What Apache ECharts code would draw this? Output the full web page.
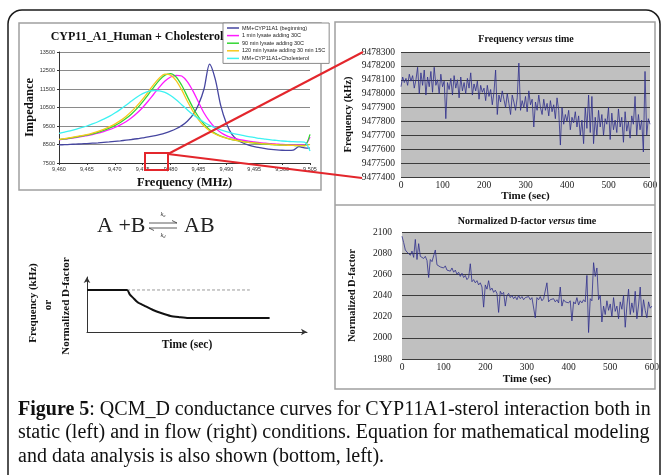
<!DOCTYPE html>
<html>
<head>
<meta charset="utf-8">
<title>Figure 5</title>
<script src="https://cdn.jsdelivr.net/npm/echarts@6.0.0/dist/echarts.min.js"></script>
<style>
html, body { margin: 0; padding: 0; background: #fff; }
#main { width: 662px; height: 475px; }
</style>
</head>
<body>
<div id="main"></div>
<script>
// 左上：阻抗-频率曲线 (MHz)
var freqMHz = [9460, 9461, 9462, 9463, 9464, 9465, 9466, 9467, 9468, 9469,
    9470, 9471, 9472, 9473, 9474, 9475, 9476, 9477, 9478, 9479,
    9480, 9481, 9482, 9483, 9484, 9485, 9486, 9487, 9488, 9489,
    9490, 9491, 9492, 9493, 9494, 9495, 9496, 9497, 9498, 9499,
    9500, 9501, 9502, 9503, 9504, 9505];
var seriesNames = ['MM+CYP11A1 (beginning)', '1 min lysate adding 30C', '90 min lysate adding 30C',
    '120 min lysate adding 30 min 15C', 'MM+CYP11A1+Cholesterol'];
var seriesColors = ['#4646a0', '#ff1aff', '#33d633', '#f7c81e', '#3df2f2'];
var beginning = [8480, 8490, 8505, 8520, 8535, 8550, 8570, 8590, 8615, 8640,
    8670, 8700, 8735, 8770, 8810, 8860, 8910, 8970, 9040, 9120,
    9220, 9350, 9520, 9760, 10100, 10650, 11500, 12850, 12050, 10600,
    9650, 9050, 8750, 8580, 8470, 8390, 8330, 8280, 8240, 8210,
    8190, 8180, 8200, 8380, 8320, 8300];
var lysate1min = [8750, 8790, 8830, 8870, 8920, 8980, 9040, 9110, 9200, 9300,
    9420, 9560, 9730, 9940, 10200, 10500, 10850, 11230, 11600, 11930,
    12150, 12240, 12200, 11900, 11400, 10800, 10200, 9750, 9400, 9150,
    8980, 8870, 8790, 8730, 8680, 8640, 8600, 8570, 8540, 8520,
    8500, 8490, 8480, 8470, 8470, 8900];
var lysate90min = [8760, 8800, 8850, 8900, 8950, 9010, 9080, 9160, 9260, 9380,
    9520, 9690, 9900, 10150, 10450, 10800, 11200, 11600, 11980, 12250,
    12330, 12150, 11700, 11100, 10500, 10000, 9600, 9300, 9100, 8950,
    8850, 8770, 8710, 8660, 8620, 8580, 8550, 8520, 8500, 8480,
    8470, 8460, 8450, 8440, 8440, 9050];
var lysate120min = [8780, 8820, 8870, 8920, 8980, 9040, 9120, 9210, 9320, 9450,
    9600, 9790, 10020, 10290, 10600, 10950, 11350, 11750, 12100, 12300,
    12250, 11950, 11450, 10850, 10300, 9850, 9500, 9250, 9070, 8940,
    8840, 8770, 8710, 8660, 8620, 8590, 8560, 8530, 8510, 8490,
    8470, 8460, 8450, 8440, 8430, 8500];
var cholesterol = [9100, 9170, 9240, 9320, 9410, 9500, 9610, 9730, 9870, 10020,
    10200, 10400, 10620, 10850, 11070, 11250, 11370, 11420, 11400, 11320,
    11150, 10920, 10650, 10380, 10120, 9900, 9700, 9530, 9400, 9290,
    9200, 9120, 9050, 8990, 8930, 8880, 8830, 8790, 8750, 8720,
    8690, 8670, 8650, 8640, 8630, 8150];
var impedanceCurves = [beginning, lysate1min, lysate90min, lysate120min, cholesterol];

// 右侧：流动条件下的时间序列，每 4 秒一个点
var timeStep = 4;
var freqKHz = [
    9478050, 9478120, 9478080, 9478110, 9478060, 9478140, 9478090, 9478130, 9478040, 9478100,
    9478190, 9478000, 9478150, 9478060, 9478170, 9477990, 9478120, 9478050, 9478160, 9478010,
    9478190, 9478060, 9478100, 9478000, 9478140, 9478050, 9478090, 9477820, 9478080, 9478030,
    9478110, 9477990, 9478130, 9478040, 9478100, 9477970, 9478120, 9478020, 9478080, 9478000,
    9478110, 9478040, 9478150, 9477990, 9478070, 9478020, 9478090, 9477960, 9478060, 9478010,
    9478040, 9477950, 9478060, 9477980, 9478030, 9477920, 9478010, 9478170, 9477850, 9477990,
    9477940, 9478020, 9477960, 9477900, 9478000, 9477930, 9477850, 9477990, 9477940, 9477880,
    9477970, 9478220, 9477880, 9477950, 9477900, 9477980, 9477870, 9478020, 9477920, 9477960,
    9477760, 9477940, 9477880, 9477990, 9477900, 9477850, 9477960, 9477880, 9477930, 9477840,
    9477950, 9477870, 9477920, 9477820, 9477970, 9477880, 9477630, 9477900, 9477780, 9477850,
    9477800, 9477880, 9477740, 9477830, 9477790, 9477870, 9477760, 9477840, 9477700, 9477810,
    9477640, 9477900, 9477750, 9477990, 9477720, 9477980, 9477640, 9477830, 9477700, 9477880,
    9477760, 9477850, 9477700, 9477820, 9477780, 9477900, 9477670, 9477860, 9477740, 9477810,
    9477720, 9477890, 9477760, 9477830, 9477650, 9477870, 9477730, 9477800, 9477680, 9477840,
    9477780, 9477980, 9477700, 9477850, 9477740, 9477810, 9477580, 9478160, 9477700, 9477820,
    9477780];
var dFactor = [
    2096, 2090, 2083, 2081, 2080, 2078, 2082, 2076, 2093, 2074,
    2089, 2077, 2078, 2075, 2077, 2073, 2057, 2074, 2072, 2071,
    2083, 2069, 2070, 2067, 2068, 2066, 2068, 2064, 2065, 2063,
    2066, 2062, 2064, 2060, 2062, 2058, 2061, 2057, 2059, 2055,
    2057, 2070, 2053, 2055, 2052, 2054, 2050, 2052, 2048, 2029,
    2050, 2046, 2054, 2045, 2047, 2043, 2045, 2042, 2024, 2044,
    2041, 2043, 2030, 2040, 2042, 2038, 2040, 2037, 2039, 2036,
    2040, 2037, 2039, 2036, 2038, 2037, 2039, 2036, 2038, 2037,
    2019, 2038, 2036, 2039, 2035, 2037, 2036, 2052, 2034, 2036,
    2035, 2037, 2034, 2036, 2033, 2048, 2030, 2036, 2034, 2035,
    2033, 2035, 2016, 2034, 2032, 2038, 2031, 2035, 2033, 2036,
    2034, 2059, 2005, 2037, 2035, 2071, 2058, 2066, 2036, 2040,
    2015, 2030, 2022, 2035, 2026, 2032, 2020, 2038, 2025, 2030,
    2018, 2034, 2027, 2040, 2010, 2030, 2046, 2022, 2033, 2024,
    2044, 2018, 2031, 2048, 2020, 2036, 2026, 2019, 2034, 2028,
    2030];

// 左下：示意曲线（任意单位）
var schemX = [0, 1.82, 1.95, 2.1, 2.3, 2.6, 3.0, 3.4, 3.8, 4.2, 4.6, 8.3];
var schemY = [7.64, 7.64, 6.8, 6.2, 5.4, 4.8, 4.0, 3.4, 2.9, 2.7, 2.55, 2.55];
var baselineX = [1.82, 7.4];
var baselineY = [7.64, 7.64];

var serif = 'Liberation Serif';
var sans = 'Liberation Sans';

function pairs(xs, ys) {
    return xs.map(function (x, i) { return [x, ys[i]]; });
}
function timed(ys) {
    return ys.map(function (y, i) { return [i * timeStep, y]; });
}
function plain(v) { return String(v); }

function serifText(x, y, text, size, extra, rotation) {
    var style = {
        text: text, x: 0, y: 0, fill: '#111',
        font: 'bold ' + size + 'px "' + serif + '"',
        textAlign: 'center', textVerticalAlign: 'middle'
    };
    for (var k in extra || {}) { style[k] = extra[k]; }
    return { type: 'text', x: x, y: y, rotation: rotation || 0, style: style, z: 50 };
}

var versusRich = {
    b: { fontFamily: serif, fontWeight: 'bold', fontSize: 10, fill: '#111' },
    i: { fontFamily: serif, fontWeight: 'bold', fontStyle: 'italic', fontSize: 10, fill: '#111' }
};
var kRich = {
    k: { fontFamily: serif, fontStyle: 'italic', fontSize: 6.5, fill: '#333' },
    s: { fontFamily: serif, fontStyle: 'italic', fontSize: 4.5, fill: '#333', padding: [3, 0, 0, 0] }
};
var captionFont = '20px "' + serif + '"';

var myChart = echarts.init(document.getElementById('main'));

var series = [];
for (var i = 0; i < impedanceCurves.length; i++) {
    series.push({
        name: seriesNames[i], type: 'line', xAxisIndex: 0, yAxisIndex: 0,
        data: pairs(freqMHz, impedanceCurves[i]), showSymbol: false, smooth: 0.3,
        lineStyle: { color: seriesColors[i], width: 1.3 }, itemStyle: { color: seriesColors[i] },
        animation: false
    });
}
series.push({
    type: 'line', xAxisIndex: 1, yAxisIndex: 1, data: timed(freqKHz), showSymbol: false,
    lineStyle: { color: '#2f2f8c', width: 0.8 }, animation: false
});
series.push({
    type: 'line', xAxisIndex: 2, yAxisIndex: 2, data: timed(dFactor), showSymbol: false,
    lineStyle: { color: '#2f2f8c', width: 0.8 }, animation: false
});
series.push({
    type: 'line', xAxisIndex: 3, yAxisIndex: 3, data: pairs(baselineX, baselineY), showSymbol: false,
    lineStyle: { color: '#999', width: 1, type: [3, 2] }, animation: false
});
series.push({
    type: 'line', xAxisIndex: 3, yAxisIndex: 3, data: pairs(schemX, schemY), showSymbol: false,
    smooth: 0.2, lineStyle: { color: '#111', width: 2 }, animation: false
});

var graySplit = { show: true, lineStyle: { color: '#3c3c3c', width: 1 } };

var option = {
    backgroundColor: '#fff',
    animation: false,
    legend: {
        data: seriesNames, orient: 'vertical', left: 223, top: 23,
        icon: 'rect', itemWidth: 12, itemHeight: 1.5, itemGap: 1.6,
        padding: [2, 4, 2, 4], borderColor: '#8a8a8a', borderWidth: 1, backgroundColor: '#fff',
        textStyle: { fontFamily: sans, fontSize: 5.5, color: '#222', padding: [0, 0, 0, -2] }
    },
    grid: [
        { left: 59, top: 52, width: 251, height: 111 },
        { left: 401, top: 52, width: 249, height: 125, show: true, backgroundColor: '#c0c0c0', borderWidth: 0 },
        { left: 402, top: 232, width: 250, height: 127, show: true, backgroundColor: '#c0c0c0', borderWidth: 0 },
        { left: 87, top: 277, width: 220, height: 55 }
    ],
    xAxis: [
        {
            gridIndex: 0, type: 'value', min: 9460, max: 9505, interval: 5,
            name: 'Frequency (MHz)', nameLocation: 'middle', nameGap: 13,
            nameTextStyle: { fontFamily: serif, fontWeight: 'bold', fontSize: 12.5, color: '#111' },
            axisLine: { lineStyle: { color: '#333' } },
            axisTick: { show: true, length: 2, lineStyle: { color: '#333' } },
            axisLabel: { fontFamily: sans, fontSize: 5.5, color: '#333', margin: 3 },
            splitLine: { show: false }
        },
        {
            gridIndex: 1, type: 'value', min: 0, max: 600, interval: 100,
            name: 'Time (sec)', nameLocation: 'middle', nameGap: 14,
            nameTextStyle: { fontFamily: serif, fontWeight: 'bold', fontSize: 11, color: '#111' },
            axisLine: { show: false }, axisTick: { show: false },
            axisLabel: { fontFamily: serif, fontSize: 9.5, color: '#222', margin: 3 },
            splitLine: { show: false }
        },
        {
            gridIndex: 2, type: 'value', min: 0, max: 600, interval: 100,
            name: 'Time (sec)', nameLocation: 'middle', nameGap: 15,
            nameTextStyle: { fontFamily: serif, fontWeight: 'bold', fontSize: 11, color: '#111' },
            axisLine: { show: false }, axisTick: { show: false },
            axisLabel: { fontFamily: serif, fontSize: 9.5, color: '#222', margin: 3 },
            splitLine: { show: false }
        },
        {
            gridIndex: 3, type: 'value', min: 0, max: 10,
            axisLine: { lineStyle: { color: '#333', width: 1 }, symbol: ['none', 'arrow'], symbolSize: [5, 6] },
            axisTick: { show: false }, axisLabel: { show: false }, splitLine: { show: false }
        }
    ],
    yAxis: [
        {
            gridIndex: 0, type: 'value', min: 7500, max: 13500, interval: 1000,
            name: 'Impedance', nameLocation: 'middle', nameGap: 23,
            nameTextStyle: { fontFamily: serif, fontWeight: 'bold', fontSize: 12.5, color: '#111' },
            axisLine: { show: true, lineStyle: { color: '#333' } },
            axisTick: { show: true, length: 2, lineStyle: { color: '#333' } },
            axisLabel: { fontFamily: sans, fontSize: 5.5, color: '#333', margin: 4, formatter: plain },
            splitLine: { show: true, lineStyle: { color: '#8a8a8a', width: 1 } }
        },
        {
            gridIndex: 1, type: 'value', min: 9477400, max: 9478300, interval: 100,
            name: 'Frequency (kHz)', nameLocation: 'middle', nameGap: 47,
            nameTextStyle: { fontFamily: serif, fontWeight: 'bold', fontSize: 10.5, color: '#111' },
            axisLine: { show: false }, axisTick: { show: false },
            axisLabel: { fontFamily: serif, fontSize: 9.5, color: '#222', margin: 6, formatter: plain },
            splitLine: graySplit
        },
        {
            gridIndex: 2, type: 'value', min: 1980, max: 2100, interval: 20,
            name: 'Normalized D-factor', nameLocation: 'middle', nameGap: 44,
            nameTextStyle: { fontFamily: serif, fontWeight: 'bold', fontSize: 10.5, color: '#111' },
            axisLine: { show: false }, axisTick: { show: false },
            axisLabel: { fontFamily: serif, fontSize: 9.5, color: '#222', margin: 10, formatter: plain },
            splitLine: graySplit
        },
        {
            gridIndex: 3, type: 'value', min: 0, max: 10,
            axisLine: { lineStyle: { color: '#333', width: 1 }, symbol: ['none', 'arrow'], symbolSize: [5, 6] },
            axisTick: { show: false }, axisLabel: { show: false }, splitLine: { show: false }
        }
    ],
    series: series,
    graphic: [
        // 外框与面板边框
        { type: 'rect', shape: { x: 8, y: 10, width: 652, height: 490, r: 14 }, style: { fill: 'none', stroke: '#1a1a1a', lineWidth: 1.5 }, z: 1 },
        { type: 'rect', shape: { x: 19, y: 23, width: 302, height: 167 }, style: { fill: 'none', stroke: '#a0a0a0', lineWidth: 1.5 }, z: 1 },
        { type: 'rect', shape: { x: 335, y: 22, width: 320, height: 367 }, style: { fill: 'none', stroke: '#a0a0a0', lineWidth: 1.5 }, z: 1 },
        { type: 'line', shape: { x1: 335, y1: 205, x2: 655, y2: 205 }, style: { stroke: '#a0a0a0', lineWidth: 1.5 }, z: 1 },
        // 标题
        serifText(137, 37, 'CYP11_A1_Human + Cholesterol', 12),
        serifText(526, 39, '{b|Frequency }{i|versus}{b| time}', 10, { rich: versusRich }),
        serifText(527, 221, '{b|Normalized D-factor }{i|versus}{b| time}', 10, { rich: versusRich }),
        // 方程 A + B <=> AB
        { type: 'text', x: 97, y: 226, style: { text: 'A +B', font: '22px "' + serif + '"', fill: '#222', textVerticalAlign: 'middle' }, z: 50 },
        { type: 'text', x: 184, y: 226, style: { text: 'AB', font: '22px "' + serif + '"', fill: '#222', textVerticalAlign: 'middle' }, z: 50 },
        { type: 'polyline', shape: { points: [[149, 223], [177, 223], [172, 220.5]] }, style: { fill: 'none', stroke: '#333', lineWidth: 0.8 }, z: 50 },
        { type: 'polyline', shape: { points: [[177, 228], [149, 228], [154, 230.5]] }, style: { fill: 'none', stroke: '#333', lineWidth: 0.8 }, z: 50 },
        { type: 'text', x: 163, y: 214, style: { text: '{k|k}{s|a}', rich: kRich, textAlign: 'center', textVerticalAlign: 'middle' }, z: 50 },
        { type: 'text', x: 163, y: 235, style: { text: '{k|k}{s|d}', rich: kRich, textAlign: 'center', textVerticalAlign: 'middle' }, z: 50 },
        // 示意图坐标轴名称
        serifText(33, 303, 'Frequency (kHz)', 11, {}, Math.PI / 2),
        serifText(48, 305, 'or', 11, {}, Math.PI / 2),
        serifText(66, 306, 'Normalized D-factor', 11, {}, Math.PI / 2),
        serifText(187, 345, 'Time (sec)', 11.5, {}),
        // 红色标记框与连线
        { type: 'rect', shape: { x: 145, y: 153, width: 23, height: 17 }, style: { fill: 'none', stroke: '#e3262c', lineWidth: 2 }, z: 60 },
        { type: 'line', shape: { x1: 168, y1: 154, x2: 363, y2: 52 }, style: { stroke: '#e3262c', lineWidth: 2 }, z: 60 },
        { type: 'line', shape: { x1: 168, y1: 154, x2: 362, y2: 178 }, style: { stroke: '#e3262c', lineWidth: 2 }, z: 60 },
        // 图注
        { type: 'text', x: 18, y: 410, style: { text: '{b|Figure 5}: QCM_D conductance curves for CYP11A1-sterol interaction both in', font: captionFont, fill: '#111', textVerticalAlign: 'middle', rich: { b: { fontFamily: serif, fontWeight: 'bold', fontSize: 20, fill: '#111' } } }, z: 50 },
        { type: 'text', x: 18, y: 433, style: { text: 'static (left) and in flow (right) conditions. Equation for mathematical modeling', font: captionFont, fill: '#111', textVerticalAlign: 'middle' }, z: 50 },
        { type: 'text', x: 18, y: 457, style: { text: 'and data analysis is also shown (bottom, left).', font: captionFont, fill: '#111', textVerticalAlign: 'middle' }, z: 50 }
    ]
};

myChart.setOption(option);
</script>
</body>
</html>
